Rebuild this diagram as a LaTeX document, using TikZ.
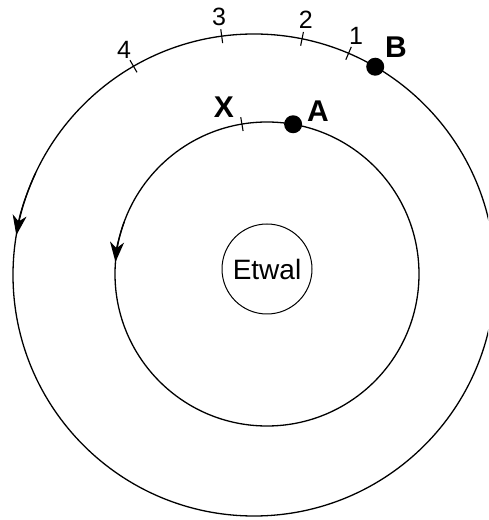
\documentclass[tikz,border=0pt]{standalone}
\usepackage{fontspec}
\setmainfont{Liberation Sans}
\usetikzlibrary{arrows.meta, calc}

\begin{document}
\begin{tikzpicture}[x=1pt, y=1pt,
        orbit/.style={draw, line width=1.3pt},
        orbitmark/.style={line width=1.1pt},
        heading/.style={-{Stealth[length=20pt, width=14pt, inset=6pt]}, line width=1.3pt},
        planet/.style={circle, fill, inner sep=0pt, minimum size=18pt},
        num/.style={inner sep=0pt, font=\fontsize{25}{25}\selectfont},
        letter/.style={inner sep=0pt, font=\fontsize{30}{30}\selectfont\bfseries}
    ]
    \useasboundingbox (0,0) rectangle (488,520);
    \clip (0,0) rectangle (488,520);

    % Centres
    \coordinate (outerc) at (254,245);
    \coordinate (innerc) at (267,246);

    % Star
    \node[circle, draw, line width=1pt, minimum size=90pt, inner sep=0pt, font=\fontsize{28}{28}\selectfont] (etwal) at (267,251) {Etwal};

    % Orbits
    \draw[orbit] (outerc) circle[radius=241];
    \draw[orbit] (innerc) circle[radius=152];

    % Direction of motion
    \draw[heading] ($(outerc)+(155:241)$) arc[start angle=155, end angle=170.5, radius=241];
    \draw[heading] ($(innerc)+(160:152)$) arc[start angle=160, end angle=175.5, radius=152];

    % Marks on outer orbit
    \foreach \ang/\n in {66.9/1, 78.5/2, 97.7/3, 120/4} {
        \draw[orbitmark] ($(outerc)+(\ang:234)$) -- ($(outerc)+(\ang:248)$);
        \node[num] (mark\n) at ($(outerc)+(\ang:260)$) {\n};
    }

    % Mark on inner orbit
    \draw[orbitmark] ($(innerc)+(99.5:145)$) -- ($(innerc)+(99.5:159)$);

    % Planets
    \node[planet] (b) at ($(outerc)+(59.8:241)$) {};
    \node[planet] (a) at ($(innerc)+(80.1:152)$) {};

    % Labels
    \node[letter] (blabel) at (396,473) {B};
    \node[letter] (alabel) at (318,409) {A};
    \node[letter] (xlabel) at (224,413) {X};
\end{tikzpicture}
\end{document}
